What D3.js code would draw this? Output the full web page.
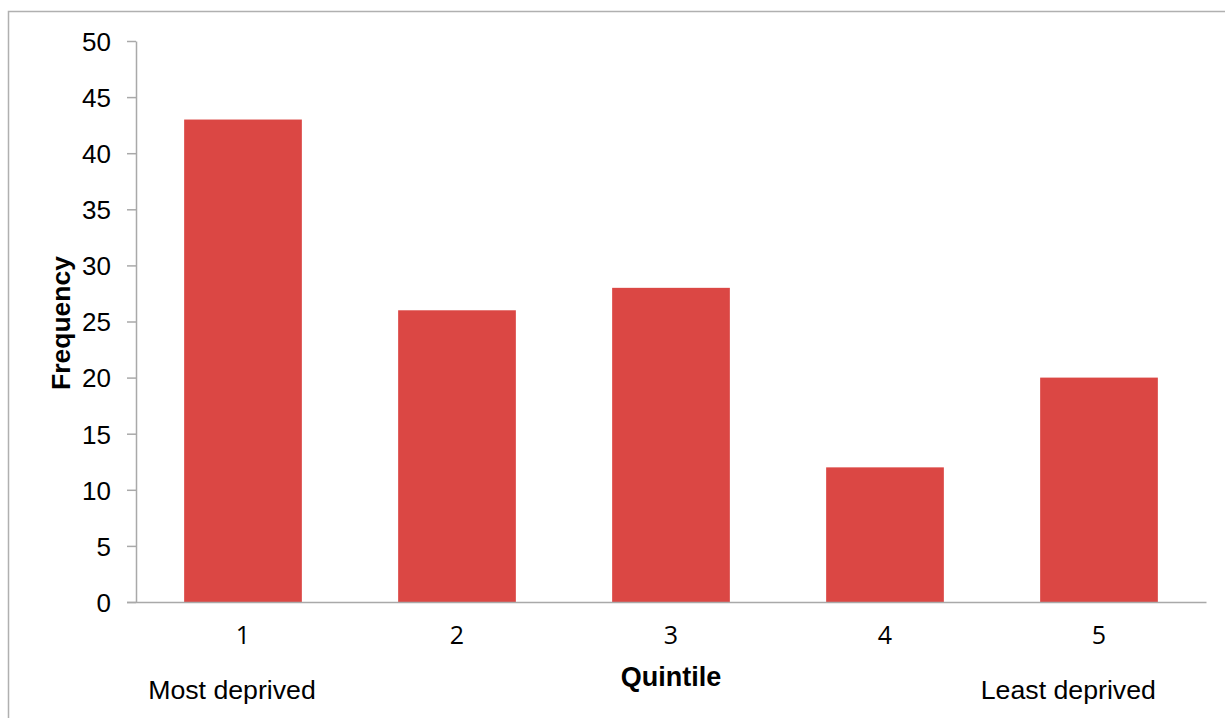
<!DOCTYPE html>
<html>
<head>
<meta charset="utf-8">
<script src="https://cdn.jsdelivr.net/npm/d3@7"></script>
<style>
  body { margin: 0; background: #fff; }
  svg { display: block; }
</style>
</head>
<body>
<div id="vis"></div>
<script>
const FRAME_WIDTH = 1225;
const FRAME_HEIGHT = 718;
const MARGINS = {left: 136, right: 19, top: 41, bottom: 116};

// data
const quintiles = ["1", "2", "3", "4", "5"];
const frequency = [43, 26, 28, 12, 20];
const yTicks = [0, 5, 10, 15, 20, 25, 30, 35, 40, 45, 50];

const VIS_WIDTH = FRAME_WIDTH - MARGINS.left - MARGINS.right;
const VIS_HEIGHT = FRAME_HEIGHT - MARGINS.top - MARGINS.bottom;

const AXIS_COLOR = "#a9a9a9";
const BAR_COLOR = "#db4744";
const FONT = "'Liberation Sans', Arial, sans-serif";

const FRAME = d3.select("#vis")
  .append("svg")
    .attr("width", FRAME_WIDTH)
    .attr("height", FRAME_HEIGHT);

// chart border (runs off right/bottom edge)
FRAME.append("rect")
  .attr("x", 8.5)
  .attr("y", 11.5)
  .attr("width", FRAME_WIDTH + 20)
  .attr("height", FRAME_HEIGHT + 20)
  .attr("fill", "none")
  .attr("stroke", "#b0b0b0")
  .attr("stroke-width", 1.5);

const X_SCALE = d3.scaleBand()
  .domain(quintiles)
  .range([0, VIS_WIDTH])
  .paddingInner(0.45)
  .paddingOuter(0.225);

const Y_SCALE = d3.scaleLinear()
  .domain([0, 50])
  .range([VIS_HEIGHT, 0]);

const G = FRAME.append("g")
  .attr("transform", "translate(" + MARGINS.left + "," + MARGINS.top + ")");

// bars
G.selectAll(".bar")
  .data(frequency)
  .enter()
  .append("rect")
    .attr("class", "bar")
    .attr("x", (d, i) => X_SCALE(quintiles[i]))
    .attr("y", (d) => Y_SCALE(d))
    .attr("width", X_SCALE.bandwidth())
    .attr("height", (d) => VIS_HEIGHT - Y_SCALE(d))
    .attr("fill", BAR_COLOR);

// y axis
const yAxis = G.append("g")
  .call(d3.axisLeft(Y_SCALE).tickValues(yTicks).tickSize(9).tickSizeOuter(0).tickPadding(16));
yAxis.select(".domain").attr("stroke", AXIS_COLOR).attr("stroke-width", 1.5);
yAxis.selectAll(".tick line").attr("stroke", AXIS_COLOR).attr("stroke-width", 1.5);
yAxis.selectAll(".tick text")
  .attr("fill", "#000")
  .attr("dy", "0.36em")
  .style("font-family", FONT)
  .style("font-size", "26px");

// x axis
const xAxis = G.append("g")
  .attr("transform", "translate(0," + VIS_HEIGHT + ")")
  .call(d3.axisBottom(X_SCALE).tickSize(0).tickSizeOuter(0).tickPadding(24));
xAxis.select(".domain").attr("stroke", AXIS_COLOR).attr("stroke-width", 1.5)
  .attr("d", "M-9,0.5H" + (VIS_WIDTH + 0.5));
xAxis.selectAll(".tick text")
  .attr("fill", "#000")
  .style("font-family", "'Open Sans', sans-serif")
  .style("font-size", "25px");

// axis titles
FRAME.append("text")
  .attr("x", MARGINS.left + VIS_WIDTH / 2)
  .attr("y", 686)
  .attr("text-anchor", "middle")
  .style("font-family", FONT)
  .style("font-size", "27px")
  .style("font-weight", "bold")
  .text("Quintile");

FRAME.append("text")
  .attr("transform", "translate(70," + (MARGINS.top + 282) + ") rotate(-90)")
  .attr("text-anchor", "middle")
  .style("font-family", FONT)
  .style("font-size", "26.5px")
  .style("font-weight", "bold")
  .text("Frequency");

// end labels
FRAME.append("text")
  .attr("x", MARGINS.left + X_SCALE("1") + X_SCALE.bandwidth() / 2 - 11)
  .attr("y", 699)
  .attr("text-anchor", "middle")
  .style("font-family", FONT)
  .style("font-size", "26.7px")
  .text("Most deprived");

FRAME.append("text")
  .attr("x", MARGINS.left + X_SCALE("5") + X_SCALE.bandwidth() - 2)
  .attr("y", 699)
  .attr("text-anchor", "end")
  .style("font-family", FONT)
  .style("font-size", "26.7px")
  .text("Least deprived");
</script>
</body>
</html>
